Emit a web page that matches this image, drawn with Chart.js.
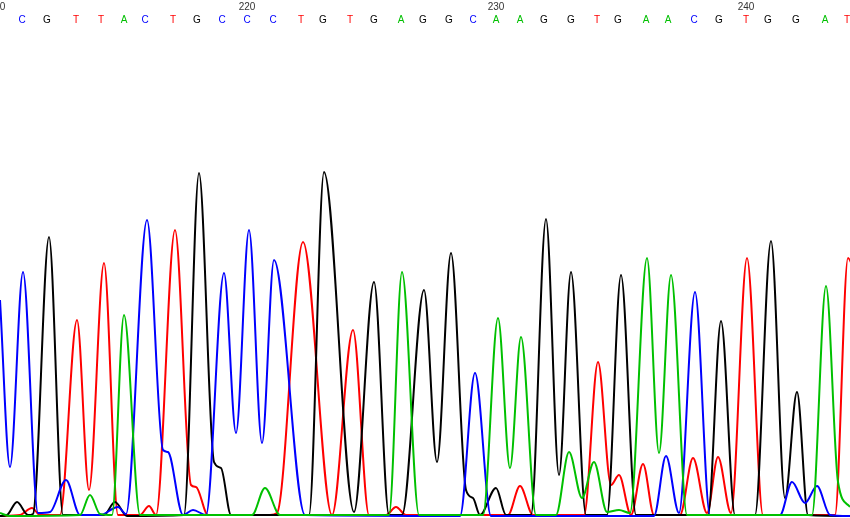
<!DOCTYPE html>
<html>
<head>
<meta charset="utf-8">
<script src="https://cdn.jsdelivr.net/npm/chart.js@4/dist/chart.umd.min.js"></script>
<style>
  html, body { margin: 0; padding: 0; background: #fff; }
  #wrap { width: 850px; height: 518px; position: relative; }
</style>
</head>
<body>
<div id="wrap"><canvas id="trace"></canvas></div>
<script>
// base calls and their scan positions
const baseCalls = ['C','G','T','T','A','C','T','G','C','C','C','T','G','T','G','A','G','G','C','A','A','G','G','T','G','A','A','C','G','T','G','G','A','T'];
const basePos = [22,47,76,101,124,145,173,197,222,247,273,301,323,350,374,401,423,449,473,496,520,544,571,597,618,646,668,694,719,746,768,796,825,847];
const tickLabels = ['210','220','230','240'];
const tickPos = [-3,247,496,746];

// traces [scan, signal]
const traceA = [[0,5],[10,2],[80,3],[90,23],[100,4],[112,3],[124,203],[140,3],[252,3],[265,30],[280,3],[389,3],[402,246],[419,3],[483,3],[498,200],[510,50],[521,181],[536,3],[556,3],[569,66],[582,20],[594,56],[607,6],[619,8],[630,5],[647,260],[659,65],[671,243],[687,3],[812,3],[826,232],[838,36],[850,11]];
const traceC = [[0,218],[10,51],[23,246],[38,5],[50,6],[66,38],[80,3],[100,3],[118,11],[126,4],[147,298],[163,68],[168,66],[183,3],[193,8],[206,3],[224,245],[236,85],[249,288],[262,75],[274,258],[305,3],[460,2],[475,145],[491,2],[654,2],[666,62],[679,5],[695,226],[710,3],[780,3],[792,36],[805,15],[817,32],[830,3],[850,2]];
const traceG = [[0,2],[7,3],[17,16],[28,3],[33,4],[49,281],[63,3],[104,3],[115,16],[127,2],[184,3],[199,345],[214,56],[221,50],[231,3],[309,3],[324,346],[354,6],[374,236],[389,3],[402,3],[424,228],[437,56],[451,265],[466,28],[473,20],[480,3],[496,30],[506,3],[531,3],[546,299],[559,43],[571,246],[586,3],[607,3],[621,243],[636,3],[708,3],[721,197],[735,3],[755,3],[771,277],[785,20],[797,126],[808,3],[850,2]];
const traceT = [[0,2],[20,3],[32,10],[40,3],[60,3],[77,198],[89,28],[104,255],[118,3],[140,3],[149,12],[156,3],[175,288],[191,33],[196,31],[208,3],[270,3],[277,5],[303,276],[332,3],[353,188],[369,3],[386,3],[396,11],[406,3],[508,3],[520,32],[533,3],[584,3],[598,156],[611,33],[619,43],[631,3],[643,54],[654,3],[680,3],[693,60],[707,5],[718,61],[731,5],[747,260],[763,3],[835,3],[848,260],[856,240]];

const baseColors = { A: '#00c000', C: '#0000ff', G: '#000000', T: '#ff0000' };

function toPoints(arr) {
  return arr.map(p => ({ x: p[0], y: p[1] }));
}

function ds(data, color) {
  return {
    data: toPoints(data),
    borderColor: color,
    borderWidth: 2,
    pointRadius: 0,
    fill: false,
    cubicInterpolationMode: 'monotone'
  };
}

// draws base letters and position numbers along the top
const basesPlugin = {
  id: 'bases',
  afterDraw(chart) {
    const ctx = chart.ctx;
    const xs = chart.scales.x;
    ctx.save();
    ctx.textAlign = 'center';
    ctx.textBaseline = 'middle';
    ctx.font = '10px "Liberation Sans", Arial, sans-serif';
    baseCalls.forEach((b, i) => {
      ctx.fillStyle = baseColors[b];
      ctx.fillText(b, xs.getPixelForValue(basePos[i]), 20);
    });
    ctx.fillStyle = '#333';
    tickLabels.forEach((t, i) => {
      ctx.fillText(t, xs.getPixelForValue(tickPos[i]), 7);
    });
    ctx.restore();
  }
};

new Chart(document.getElementById('trace'), {
  type: 'line',
  data: {
    datasets: [
      ds(traceA, baseColors.A),
      ds(traceC, baseColors.C),
      ds(traceG, baseColors.G),
      ds(traceT, baseColors.T)
    ]
  },
  options: {
    responsive: true,
    maintainAspectRatio: false,
    animation: false,
    layout: { padding: 0 },
    plugins: { legend: { display: false }, tooltip: { enabled: false } },
    scales: {
      x: { type: 'linear', min: 0, max: 850, display: false },
      y: { min: 0, max: 518, display: false }
    }
  },
  plugins: [basesPlugin]
});
</script>
</body>
</html>
